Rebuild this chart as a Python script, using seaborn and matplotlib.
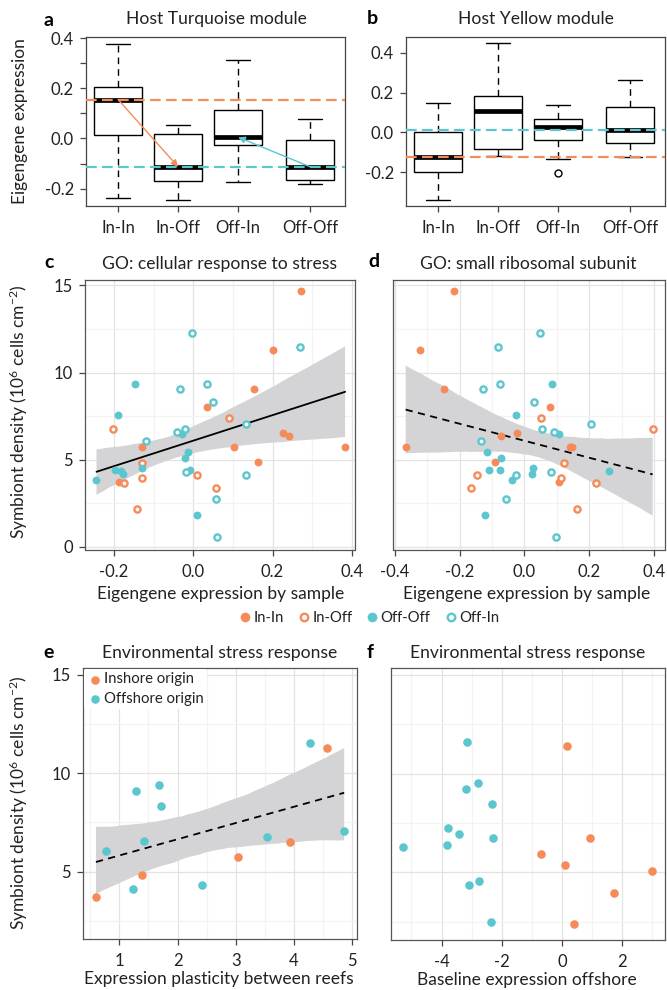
import numpy as np
import pandas as pd
import matplotlib
matplotlib.use("Agg")
import matplotlib.pyplot as plt
from matplotlib.lines import Line2D
from matplotlib.ticker import MultipleLocator, FormatStrFormatter
import seaborn as sns

# ---------------- data ----------------
ORANGE = "#F68B59"
CYAN = "#5CC6CE"

groups = ["In-In", "In-Off", "Off-In", "Off-Off"]
group_pos = [1, 2, 3, 4.2]

# panel a: Host Turquoise module (five-number summaries)
a_whislo = [-0.239, -0.245, -0.174, -0.183]
a_q1 = [0.015, -0.169, -0.025, -0.164]
a_med = [0.155, -0.113, 0.005, -0.113]
a_q3 = [0.203, 0.019, 0.114, -0.008]
a_whishi = [0.377, 0.055, 0.314, 0.078]
a_out = [[], [], [], []]

# panel b: Host Yellow module
b_whislo = [-0.338, -0.118, -0.135, -0.122]
b_q1 = [-0.200, -0.083, -0.038, -0.052]
b_med = [-0.122, 0.107, 0.028, 0.012]
b_q3 = [0.003, 0.182, 0.067, 0.125]
b_whishi = [0.148, 0.448, 0.137, 0.262]
b_out = [[], [], [-0.205], []]

# panels c/d: per-sample symbiont density and eigengene expression
cd_group = (["In-In"] * 11 + ["In-Off"] * 8 + ["Off-Off"] * 12 + ["Off-In"] * 13)
cd_density = [14.67, 11.28, 9.08, 8.05, 6.53, 6.37, 5.74, 5.74, 5.71, 4.85, 3.70,
              7.42, 6.75, 4.81, 4.12, 3.97, 3.66, 3.38, 2.18,
              9.33, 7.57, 6.47, 5.42, 5.08, 4.52, 4.43, 4.43, 4.33, 4.18, 3.85, 1.81,
              12.27, 11.49, 9.37, 9.04, 8.32, 7.04, 6.75, 6.56, 6.08, 4.31, 4.12, 2.73, 0.59]
c_expr = [0.272, 0.202, 0.153, 0.034, 0.227, 0.241, 0.383, 0.104, -0.129, 0.163, -0.187,
          0.089, -0.202, -0.129, 0.009, -0.129, -0.175, 0.057, -0.141,
          -0.147, -0.189, -0.029, -0.014, -0.021, -0.129, -0.198, -0.007, -0.181, -0.177, -0.244, 0.009,
          -0.003, 0.269, 0.034, -0.034, 0.049, 0.133, -0.022, -0.042, -0.120, -0.017, 0.133, 0.057, 0.061]
d_expr = [-0.216, -0.321, -0.249, 0.079, -0.023, -0.073, -0.366, 0.141, 0.145, -0.092, 0.107,
          0.052, 0.395, 0.123, -0.145, 0.114, 0.220, -0.165, 0.161,
          0.085, -0.027, 0.105, -0.116, -0.072, 0.026, -0.108, -0.075, 0.262, 0.023, -0.039, -0.121,
          0.048, -0.082, -0.076, -0.129, 0.028, 0.205, 0.054, 0.092, -0.134, 0.083, -0.027, -0.057, 0.098]

# panel e
e_in_x = [0.60, 1.39, 3.04, 3.93, 4.57]
e_in_y = [3.70, 4.83, 5.73, 6.53, 11.30]
e_off_x = [0.77, 1.23, 1.29, 1.43, 1.68, 1.71, 2.42, 3.54, 4.28, 4.86]
e_off_y = [6.07, 4.12, 9.07, 6.56, 9.39, 8.32, 4.31, 6.75, 11.51, 7.05]

# panel f
f_in_x = [0.18, 0.94, -0.69, 0.12, 3.01, 1.74, 0.39]
f_in_y = [11.39, 6.73, 5.95, 5.36, 5.07, 3.98, 2.37]
f_off_x = [-3.14, -2.80, -3.20, -2.33, -3.80, -3.41, -2.29, -5.28, -3.82, -3.10, -2.76, -2.36]
f_off_y = [11.58, 9.53, 9.20, 8.48, 7.24, 6.95, 6.75, 6.29, 6.37, 4.37, 4.54, 2.49]

# ---------------- style ----------------
sns.set_theme(style="white")
plt.rcParams['font.family'] = ['Lato', 'DejaVu Sans']
plt.rcParams['axes.unicode_minus'] = False
plt.rcParams['mathtext.fontset'] = 'custom'
plt.rcParams['mathtext.rm'] = 'Lato'
plt.rcParams['mathtext.it'] = 'Lato:italic'
plt.rcParams['mathtext.bf'] = 'Lato:bold'

TXT = "#222222"
W, H = 667, 990
fig = plt.figure(figsize=(W / 100, H / 100), dpi=100)
renderer = fig.canvas.get_renderer()


def fit_size(s, target_px, base=10.0):
    t = fig.text(0, 0, s, fontsize=base)
    w = t.get_window_extent(renderer).width
    t.remove()
    return base * target_px / w


TITLE_FS = fit_size("Environmental stress response", 236)
LAB_FS = fit_size("Expression plasticity between reefs", 270)
TICK_FS = fit_size("Off-Off", 56)
LEG_FS = fit_size("Off-Off", 50)


def axes_px(x0, y0, x1, y1):
    return fig.add_axes([x0 / W, 1 - y1 / H, (x1 - x0) / W, (y1 - y0) / H])


def ftext(x, y, s, **kw):
    fig.text(x / W, 1 - y / H, s, **kw)


def style_axes(ax, spine_color="#444444"):
    for sp in ax.spines.values():
        sp.set_visible(True)
        sp.set_color(spine_color)
        sp.set_linewidth(0.9)
    ax.tick_params(which='major', direction='out', length=4.3, width=0.9,
                   color="#444444", labelsize=TICK_FS, labelcolor=TXT,
                   left=True, bottom=True)
    ax.tick_params(axis='x', which='major', pad=6)
    ax.tick_params(axis='y', which='major', pad=4.5)
    ax.set_xlabel("")
    ax.set_ylabel("")


def box_panel(ax, wlo, q1, med, q3, whi, outl):
    rows = []
    for i, p in enumerate(group_pos):
        first = outl[i][0] if outl[i] else wlo[i]
        vals = [first, wlo[i], q1[i], q1[i], med[i], q3[i], q3[i], whi[i], whi[i]]
        rows += [(p, v) for v in vals]
    df = pd.DataFrame(rows, columns=["pos", "val"])
    sns.boxplot(data=df, x="pos", y="val", native_scale=True, ax=ax,
                color="white", linecolor="black", linewidth=1.0, width=0.8,
                whis=1.5, fliersize=5,
                whiskerprops=dict(linestyle=(0, (4.8, 3.6))),
                medianprops=dict(linewidth=3.4, color="black", solid_capstyle="butt"),
                flierprops=dict(marker="o", markerfacecolor="none",
                                markeredgecolor="black", markeredgewidth=1.0))
    ax.set_xticks(group_pos)
    ax.set_xticklabels(groups)
    ax.set_xlim(0.465, 4.78)


# ---------------- panel a ----------------
ax_a = axes_px(86, 37, 345, 206)
box_panel(ax_a, a_whislo, a_q1, a_med, a_q3, a_whishi, a_out)
ax_a.set_ylim(-0.269, 0.404)
ax_a.set_yticks(np.round(np.arange(-0.2, 0.41, 0.1), 1))
ax_a.set_yticklabels(["-0.2", "", "0.0", "", "0.2", "", "0.4"])
ax_a.axhline(a_med[0], color=ORANGE, ls=(0, (4.8, 2.4)), lw=1.6, zorder=6)
ax_a.axhline(a_med[3], color=CYAN, ls=(0, (4.8, 2.4)), lw=1.6, zorder=6)
ax_a.annotate("", xy=(group_pos[1], a_med[1]), xytext=(group_pos[0], a_med[0]),
              arrowprops=dict(arrowstyle="-|>", color=ORANGE, lw=1.0,
                              mutation_scale=10, shrinkA=0, shrinkB=0), zorder=7)
ax_a.annotate("", xy=(group_pos[2], a_med[2]), xytext=(group_pos[3], a_med[3]),
              arrowprops=dict(arrowstyle="-|>", color=CYAN, lw=1.0,
                              mutation_scale=10, shrinkA=0, shrinkB=0), zorder=7)
style_axes(ax_a)

# ---------------- panel b ----------------
ax_b = axes_px(406, 37, 665, 206)
box_panel(ax_b, b_whislo, b_q1, b_med, b_q3, b_whishi, b_out)
ax_b.set_ylim(-0.3685, 0.478)
ax_b.set_yticks([-0.2, 0.0, 0.2, 0.4])
ax_b.set_yticklabels(["-0.2", "0.0", "0.2", "0.4"])
ax_b.axhline(b_med[3], color=CYAN, ls=(0, (4.8, 2.4)), lw=1.6, zorder=6)
ax_b.axhline(b_med[0], color=ORANGE, ls=(0, (4.8, 2.4)), lw=1.6, zorder=6)
style_axes(ax_b)

# ---------------- panels c, d ----------------
cd = pd.DataFrame({"group": cd_group, "density": cd_density,
                   "xc": c_expr, "xd": d_expr})

group_style = [("In-In", ORANGE, True), ("In-Off", ORANGE, False),
               ("Off-Off", CYAN, True), ("Off-In", CYAN, False)]


def grid_style(ax, xmaj, xmin, ymaj, ymin):
    ax.xaxis.set_major_locator(MultipleLocator(xmaj))
    ax.xaxis.set_minor_locator(MultipleLocator(xmin))
    ax.yaxis.set_major_locator(MultipleLocator(ymaj))
    ax.yaxis.set_minor_locator(MultipleLocator(ymin))
    ax.set_axisbelow(True)
    ax.grid(True, which="major", color="#E3E3E3", lw=0.9)
    ax.grid(True, which="minor", color="#F3F3F3", lw=0.9)
    ax.tick_params(which="minor", length=0)


def reg_band(ax, x, y, ls):
    sns.regplot(x=np.asarray(x), y=np.asarray(y), ax=ax, scatter=False,
                color="black", ci=95, n_boot=2000, seed=3, truncate=True,
                line_kws=dict(lw=1.3, ls=ls, zorder=2.5))
    band = ax.collections[-1]
    band.set_facecolor("#D4D4D6")
    band.set_alpha(1.0)
    band.set_edgecolor("none")
    band.set_zorder(1.5)


def scatter_groups(ax, xcol):
    for g, col, filled in group_style:
        sub = cd[cd.group == g]
        if filled:
            sns.scatterplot(data=sub, x=xcol, y="density", ax=ax, color=col,
                            s=32, linewidth=0, zorder=3)
        else:
            sns.scatterplot(data=sub, x=xcol, y="density", ax=ax, color="white",
                            edgecolor=col, s=20, linewidth=1.7, zorder=3)


ax_c = axes_px(85, 279.5, 355, 549.5)
reg_band(ax_c, cd.xc, cd.density, "-")
scatter_groups(ax_c, "xc")
ax_c.set_xlim(-0.273, 0.408)
ax_c.set_ylim(-0.155, 15.34)
grid_style(ax_c, 0.2, 0.1, 5, 2.5)
ax_c.xaxis.set_major_formatter(FormatStrFormatter("%.1f"))
style_axes(ax_c, "#555555")

ax_d = axes_px(393, 279.5, 665, 549.5)
reg_band(ax_d, cd.xd, cd.density, (0, (4, 3)))
scatter_groups(ax_d, "xd")
ax_d.set_xlim(-0.405, 0.433)
ax_d.set_ylim(-0.155, 15.34)
grid_style(ax_d, 0.2, 0.1, 5, 2.5)
ax_d.xaxis.set_major_formatter(FormatStrFormatter("%.1f"))
style_axes(ax_d, "#555555")
ax_d.tick_params(axis="y", left=False, labelleft=False)

# legend for c/d
handles = []
for g, col, filled in group_style:
    if filled:
        h = Line2D([], [], ls="none", marker="o", ms=7, mfc=col, mec=col, mew=0)
    else:
        h = Line2D([], [], ls="none", marker="o", ms=5.4, mfc="white", mec=col, mew=1.7)
    handles.append(h)
fig.legend(handles, [g for g, _, _ in group_style], loc="center",
           bbox_to_anchor=(368 / W, 1 - 618 / H), ncol=4, frameon=False,
           fontsize=LEG_FS, handletextpad=0.0, columnspacing=0.8, handlelength=1.1,
           labelcolor=TXT)

# ---------------- panel e ----------------
ax_e = axes_px(83, 668, 357, 939)
reg_band(ax_e, e_in_x + e_off_x, e_in_y + e_off_y, (0, (4, 3)))
sns.scatterplot(x=e_in_x, y=e_in_y, ax=ax_e, color=ORANGE, s=38, linewidth=0,
                zorder=3, label="Inshore origin")
sns.scatterplot(x=e_off_x, y=e_off_y, ax=ax_e, color=CYAN, s=38, linewidth=0,
                zorder=3, label="Offshore origin")
ax_e.set_xlim(0.378, 5.08)
ax_e.set_ylim(1.58, 15.34)
grid_style(ax_e, 1, 0.5, 5, 2.5)
ax_e.xaxis.set_major_formatter(FormatStrFormatter("%d"))
style_axes(ax_e, "#555555")
leg = ax_e.legend(loc="upper left", fontsize=LEG_FS, frameon=True, framealpha=1,
                  edgecolor="none", facecolor="white", handletextpad=0.1,
                  borderpad=0.2, borderaxespad=0.1, handlelength=1.0,
                  labelspacing=0.35, labelcolor=TXT)

# ---------------- panel f ----------------
ax_f = axes_px(391, 668, 665, 940)
sns.scatterplot(x=f_off_x, y=f_off_y, ax=ax_f, color=CYAN, s=38, linewidth=0, zorder=3)
sns.scatterplot(x=f_in_x, y=f_in_y, ax=ax_f, color=ORANGE, s=38, linewidth=0, zorder=3)
ax_f.set_xlim(-5.68, 3.43)
ax_f.set_ylim(1.58, 15.34)
grid_style(ax_f, 2, 1, 5, 2.5)
ax_f.xaxis.set_major_formatter(FormatStrFormatter("%d"))
style_axes(ax_f, "#555555")
ax_f.tick_params(axis="y", left=False, labelleft=False)

# ---------------- texts ----------------
letter_kw = dict(fontsize=14, fontweight="bold", color="black", ha="left", va="center")
title_kw = dict(fontsize=TITLE_FS, color=TXT, ha="center", va="center")
lab_kw = dict(fontsize=LAB_FS, color=TXT, ha="center", va="center")

ftext(43, 20, "a", **letter_kw)
ftext(216, 19, "Host Turquoise module", **title_kw)
ftext(367, 19, "b", **letter_kw)
ftext(536, 19, "Host Yellow module", **title_kw)
ftext(44, 263, "c", **letter_kw)
ftext(220, 264, "GO: cellular response to stress", **title_kw)
ftext(368, 262, "d", **letter_kw)
ftext(528, 264, "GO: small ribosomal subunit", **title_kw)
ftext(43, 652, "e", **letter_kw)
ftext(220, 653, "Environmental stress response", **title_kw)
ftext(367, 652, "f", **letter_kw)
ftext(528, 653, "Environmental stress response", **title_kw)

ftext(20, 121, "Eigengene expression", rotation=90, **lab_kw)
ylab = "Symbiont density (10$^{6}$ cells cm$^{-2}$)"
ftext(19, 412, ylab, rotation=90, **lab_kw)
ftext(19, 803, ylab, rotation=90, **lab_kw)
ftext(221, 594, "Eigengene expression by sample", **lab_kw)
ftext(527, 594, "Eigengene expression by sample", **lab_kw)
ftext(219, 979, "Expression plasticity between reefs", **lab_kw)
ftext(527, 980, "Baseline expression offshore", **lab_kw)

fig.savefig("out.png", dpi=100)
